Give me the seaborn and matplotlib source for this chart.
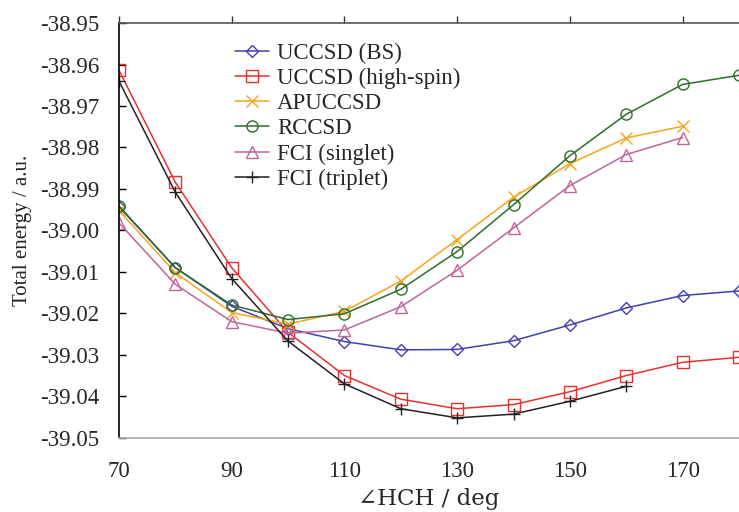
import numpy as np
import pandas as pd
import matplotlib
matplotlib.use('Agg')
import matplotlib.pyplot as plt
import seaborn as sns

# --- Data --------------------------------------------------------------------
angle = [70, 80, 90, 100, 110, 120, 130, 140, 150, 160, 170, 180]

uccsd_bs = [-38.9943, -39.0090, -39.0183, -39.0237, -39.0268, -39.0288,
            -39.0287, -39.0266, -39.0228, -39.0187, -39.0157, -39.0146]
uccsd_hs = [-38.9614, -38.9884, -39.0090, -39.0246, -39.0350, -39.0407,
            -39.0430, -39.0420, -39.0389, -39.0350, -39.0318, -39.0306]
apuccsd = [-38.9952, -39.0102, -39.0198, -39.0226, -39.0195, -39.0122,
           -39.0022, -38.9920, -38.9839, -38.9777, -38.9749]
rccsd = [-38.9941, -39.0090, -39.0180, -39.0215, -39.0201, -39.0142,
         -39.0051, -38.9938, -38.9820, -38.9720, -38.9648, -38.9626]
fci_singlet = [-38.9982, -39.0130, -39.0220, -39.0248, -39.0240, -39.0184,
               -39.0096, -38.9994, -38.9892, -38.9817, -38.9776]
fci_triplet = [-38.9640, -38.9908, -39.0116, -39.0267, -39.0370, -39.0430,
               -39.0452, -39.0443, -39.0412, -39.0376]

series = [
    ('UCCSD (BS)', uccsd_bs, '#4040b0', 'D', 6),
    ('UCCSD (high-spin)', uccsd_hs, '#e8312e', 's', 9),
    ('APUCCSD', apuccsd, '#f5a51c', 'x', 8),
    ('RCCSD', rccsd, '#2f6b2f', 'o', 8),
    ('FCI (singlet)', fci_singlet, '#c0649a', '^', 8),
    ('FCI (triplet)', fci_triplet, '#222222', '+', 9),
]

# --- Style -------------------------------------------------------------------
sns.set_theme(style='white')
plt.rcParams['font.family'] = ['Liberation Serif', 'DejaVu Serif']
plt.rcParams['axes.unicode_minus'] = False

fig = plt.figure(figsize=(7.39, 5.12), dpi=100)
ax = fig.add_axes([0.161, 0.145, 0.839, 0.81])

for name, vals, col, mk, ms in series:
    df = pd.DataFrame({'angle': angle[:len(vals)], 'energy': vals})
    sns.lineplot(data=df, x='angle', y='energy', ax=ax, color=col,
                 marker=mk, markersize=ms, markerfacecolor='none',
                 markeredgecolor=col, markeredgewidth=1.0,
                 linewidth=1.1, label=name)

ax.set_xlim(70, 180)
ax.set_ylim(-39.05, -38.95)
ax.set_xticks([70, 90, 110, 130, 150, 170])
ax.set_yticks(np.round(np.arange(-39.05, -38.949, 0.01), 2))
ax.yaxis.set_major_formatter(matplotlib.ticker.FormatStrFormatter('%.2f'))

# Excel-like axes: category axis line at the top, labels at the bottom
ax.spines['right'].set_visible(False)
ax.spines['top'].set_color('#555555')
ax.spines['top'].set_linewidth(1.2)
ax.spines['bottom'].set_color('#aaaaaa')
ax.spines['left'].set_color('black')
ax.spines['left'].set_linewidth(1.2)
ax.tick_params(axis='x', bottom=False, top=True, labelbottom=True, labeltop=False,
               direction='out', length=5, width=1, color='#333333',
               labelsize=16.5, pad=12)
ax.tick_params(axis='y', left=True, direction='in', length=5, width=1,
               color='black', labelsize=16.5, pad=14)

ax.set_xlabel('∠HCH / deg', fontsize=16.5, labelpad=4,
              fontfamily=['DejaVu Serif', 'Liberation Serif'])
ax.set_ylabel('Total energy / a.u.', fontsize=15, labelpad=6)

ax.legend(loc='upper left', bbox_to_anchor=(0.172, 0.975), frameon=False,
          fontsize=16.5, handlelength=1.5, handletextpad=0.35, labelspacing=0.18,
          borderaxespad=0)

plt.savefig('out.png', dpi=100)
plt.close()
